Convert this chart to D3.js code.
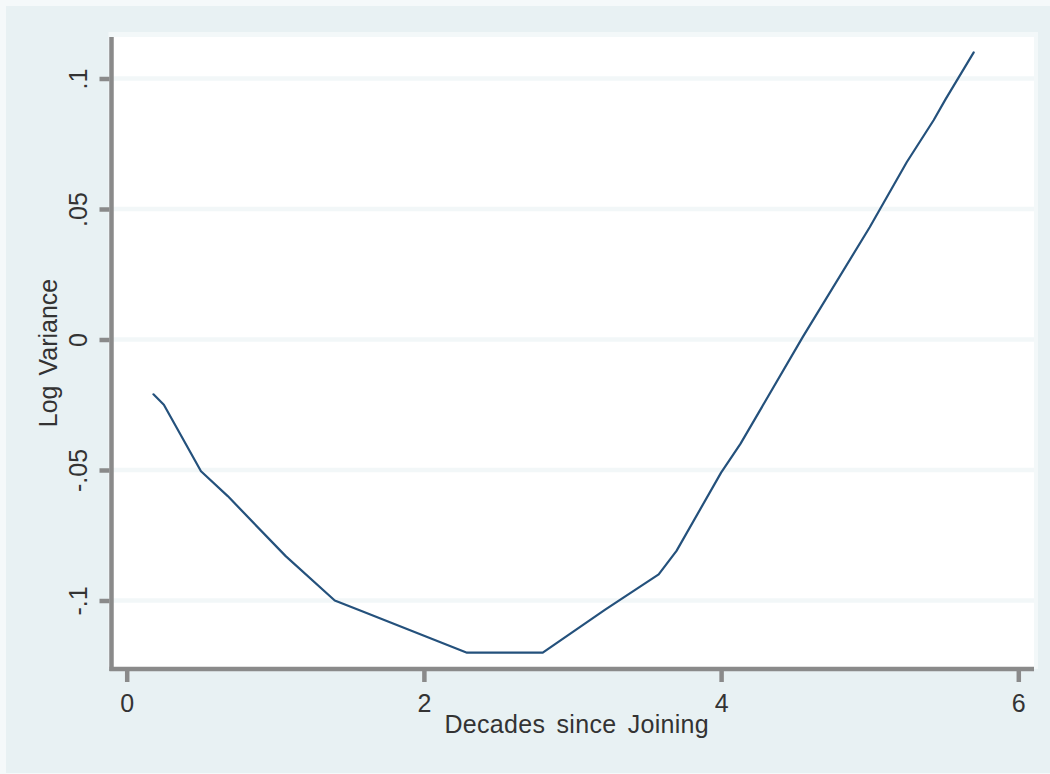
<!DOCTYPE html>
<html>
<head>
<meta charset="utf-8">
<script src="https://cdn.jsdelivr.net/npm/d3@7"></script>
<style>
  html, body { margin: 0; padding: 0; background: #f5f9fa; }
  svg { display: block; }
  text { font-family: "Liberation Sans", Arial, sans-serif; fill: #333; }
</style>
</head>
<body>
<svg id="chart" width="1050" height="774"></svg>
<script>
// Log variance by decades since joining
const decades = [0.18, 0.25, 0.50, 0.68, 1.07, 1.40, 1.58, 2.29, 2.80, 3.22, 3.58, 3.70, 4.00, 4.13, 4.55, 5.00, 5.25, 5.43, 5.51, 5.70];
const logVariance = [-0.021, -0.025, -0.0505, -0.060, -0.083, -0.100, -0.104, -0.120, -0.120, -0.1035, -0.090, -0.081, -0.051, -0.040, 0.001, 0.043, 0.068, 0.084, 0.092, 0.110];

const xTicks = [0, 2, 4, 6];
const xTickLabels = ["0", "2", "4", "6"];
const yTicks = [-0.1, -0.05, 0, 0.05, 0.1];
const yTickLabels = ["-.1", "-.05", "0", ".05", ".1"];

const xTitle = "Decades since Joining";
const yTitle = "Log Variance";

const svg = d3.select("#chart");
const W = 1050, H = 774;

// plot region bounds
const plot = { left: 111.5, right: 1034, top: 37, bottom: 669 };

const x = d3.scaleLinear().domain([0, 6]).range([126.7, 1018.3]);
const y = d3.scaleLinear().domain([-0.1, 0.1]).range([600.5, 78.5]);

// graph region background
svg.append("rect")
  .attr("x", 6).attr("y", 6)
  .attr("width", W - 6).attr("height", H - 7)
  .attr("fill", "#e8f1f3");

// plot region (white with a faint edge)
svg.append("rect")
  .attr("x", plot.left - 3).attr("y", plot.top - 5)
  .attr("width", plot.right - plot.left + 7).attr("height", plot.bottom - plot.top + 5)
  .attr("fill", "#f3f8f9");
svg.append("rect")
  .attr("x", plot.left).attr("y", plot.top)
  .attr("width", plot.right - plot.left).attr("height", plot.bottom - plot.top)
  .attr("fill", "#ffffff");

// horizontal gridlines
svg.append("g")
  .selectAll("line")
  .data(yTicks)
  .join("line")
  .attr("x1", plot.left).attr("x2", plot.right)
  .attr("y1", d => y(d)).attr("y2", d => y(d))
  .attr("stroke", "#f2f7f8")
  .attr("stroke-width", 4.5);

// data line
const line = d3.line()
  .x((d, i) => x(decades[i]))
  .y(d => y(d));

svg.append("path")
  .datum(logVariance)
  .attr("d", line)
  .attr("fill", "none")
  .attr("stroke", "#24517c")
  .attr("stroke-width", 2.2)
  .attr("stroke-linejoin", "round")
  .attr("stroke-linecap", "round");

// axes
const axisColor = "#8a8a8a";

const yAxis = svg.append("g")
  .attr("transform", `translate(${plot.left - 2},0)`)
  .call(d3.axisLeft(y).tickValues(yTicks).tickSize(10).tickSizeOuter(0)
        .tickFormat((d, i) => yTickLabels[i]));
yAxis.select(".domain").remove();
yAxis.selectAll(".tick line").attr("stroke", axisColor).attr("stroke-width", 4.5);
yAxis.selectAll(".tick text")
  .attr("x", null).attr("dy", null)
  .attr("transform", "translate(-23,0) rotate(-90)")
  .attr("text-anchor", "middle")
  .attr("y", 0)
  .style("font-size", "25px")
  .style("font-family", "'Liberation Sans', Arial, sans-serif")
  .attr("fill", "#333");

const xAxis = svg.append("g")
  .attr("transform", `translate(0,${plot.bottom + 2})`)
  .call(d3.axisBottom(x).tickValues(xTicks).tickSize(11).tickSizeOuter(0)
        .tickFormat((d, i) => xTickLabels[i]));
xAxis.select(".domain").remove();
xAxis.selectAll(".tick line").attr("stroke", axisColor).attr("stroke-width", 4.5);
xAxis.selectAll(".tick text")
  .attr("y", 41).attr("dy", null)
  .style("font-size", "25px")
  .style("font-family", "'Liberation Sans', Arial, sans-serif")
  .attr("fill", "#333");

// axis lines
svg.append("line")
  .attr("x1", plot.left).attr("x2", plot.left)
  .attr("y1", plot.top).attr("y2", plot.bottom + 2)
  .attr("stroke", axisColor).attr("stroke-width", 4.5);
svg.append("line")
  .attr("x1", plot.left - 2).attr("x2", plot.right)
  .attr("y1", plot.bottom).attr("y2", plot.bottom)
  .attr("stroke", axisColor).attr("stroke-width", 4.5);

// axis titles
svg.append("text")
  .attr("x", (plot.left + plot.right) / 2 + 4)
  .attr("y", 733)
  .attr("text-anchor", "middle")
  .style("font-size", "25px")
  .style("word-spacing", "4px")
  .style("letter-spacing", "0.3px")
  .text(xTitle);

svg.append("text")
  .attr("transform", `translate(57,${(plot.top + plot.bottom) / 2}) rotate(-90)`)
  .attr("text-anchor", "middle")
  .style("font-size", "25px")
  .style("word-spacing", "3px")
  .text(yTitle);
</script>
</body>
</html>
